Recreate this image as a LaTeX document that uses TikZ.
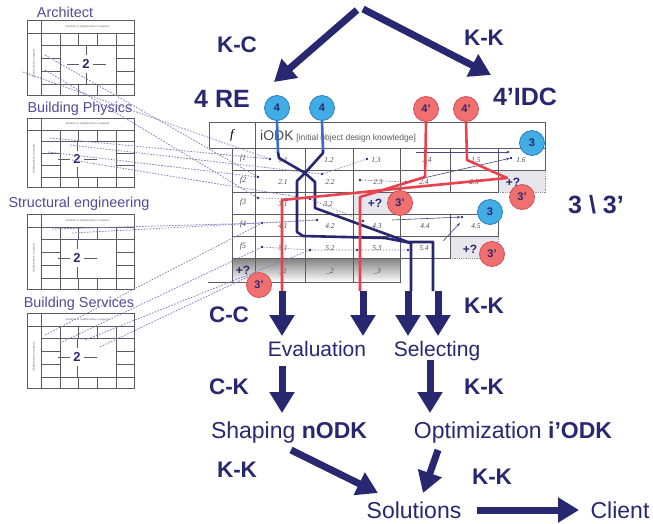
\documentclass[tikz,border=0pt]{standalone}
\usepackage{fontspec}
\setmainfont{Liberation Sans}
\newfontfamily\cellfont{Liberation Serif}
\usetikzlibrary{arrows.meta}

\definecolor{navy}{RGB}{40,40,112}
\definecolor{titlepurple}{RGB}{84,74,150}
\definecolor{gridgrey}{RGB}{92,92,100}
\definecolor{linkdash}{RGB}{140,122,192}
\definecolor{cblue}{RGB}{66,172,228}
\definecolor{cbluedark}{RGB}{40,125,195}
\definecolor{bluepath}{RGB}{55,110,205}
\definecolor{redpath}{RGB}{232,66,78}
\definecolor{cred}{RGB}{240,112,112}
\definecolor{creddark}{RGB}{214,76,86}
\definecolor{shade}{RGB}{230,230,236}
\definecolor{numgrey}{RGB}{75,75,85}

\tikzset{
  bigarrow/.style={draw=navy, line width=7pt, -{Triangle[length=21pt,width=24pt]}},
  steplabel/.style={text=navy, font=\fontsize{21}{21}\selectfont, inner sep=0pt, anchor=base},
  outlabel/.style={text=navy, font=\fontsize{23}{23}\selectfont, inner sep=0pt, anchor=base},
  kclabel/.style={text=navy, font=\bfseries\fontsize{22.5}{22.5}\selectfont, inner sep=0pt, anchor=base},
  biglabel/.style={text=navy, font=\bfseries\fontsize{25}{25}\selectfont, inner sep=0pt, anchor=base},
  paneltitle/.style={text=titlepurple, font=\fontsize{14.4}{14.4}\selectfont, inner sep=0pt, anchor=base},
  bluecirc/.style={circle, minimum size=25pt, inner sep=0pt, fill=cblue, draw=cbluedark, line width=0.8pt, text=navy, font=\bfseries\fontsize{11}{11}\selectfont},
  redcirc/.style={circle, minimum size=25pt, inner sep=0pt, fill=cred, draw=creddark, line width=0.8pt, text=navy, font=\bfseries\fontsize{11}{11}\selectfont},
  gridline/.style={draw=gridgrey, line width=0.85pt},
  cellnum/.style={text=numgrey, font=\cellfont\itshape\fontsize{7.5}{7.5}\selectfont, inner sep=0pt},
  link/.style={draw=linkdash, line width=0.8pt, dash pattern=on 1.6pt off 1.4pt},
  innerlink/.style={draw=navy!60, line width=0.6pt, dash pattern=on 1.6pt off 1.4pt},
  thinlink/.style={draw=navy!85, line width=0.6pt, -{Stealth[length=3.5pt,width=3pt]}},
  celldot/.style={circle, fill=navy, inner sep=0pt, minimum size=2.6pt},
  navypath/.style={draw=navy, line width=2.6pt, line join=round},
  bluepathstyle/.style={draw=bluepath, line width=2.6pt},
  redpathstyle/.style={draw=redpath, line width=2.6pt, line join=round},
  shadedcell/.style={fill=shade, draw=gridgrey!70, dash pattern=on 1.2pt off 1pt, line width=0.6pt},
  plusq/.style={text=navy, font=\bfseries\fontsize{12}{12}\selectfont, inner sep=0pt},
  tinytext/.style={font=\fontsize{2.6}{2.6}\selectfont, text=gridgrey, inner sep=0pt},
}

% One assessment matrix of a discipline: #1,#2 top-left corner, #3 x of the figure,
% #4 node-name prefix, #5 vertical scale
\newcommand{\assessgrid}[5]{%
  \begin{scope}[shift={(#1,#2)}, yscale=#5]
    \draw[gridline] (0,0) rectangle (107,75);
    \draw[gridline] (0,13) -- (107,13) (14,0) -- (14,75);
    \draw[gridline] (14,25) -- (107,25) (14,64) -- (107,64);
    \draw[gridline] (14,38) -- (33,38) (89,38) -- (107,38) (14,51) -- (33,51) (89,51) -- (107,51);
    \draw[gridline] (33,13) -- (33,75) (89,13) -- (89,75);
    \draw[gridline] (51,13) -- (51,25) (70,13) -- (70,25) (51,64) -- (51,75) (70,64) -- (70,75);
    \draw[gridline] (#3-19,44) -- (#3-7,44) (#3+7,44) -- (#3+20,44)
                    (#3,25) -- (#3,35) (#3,53) -- (#3,64);
    \node[text=navy, font=\bfseries\fontsize{13}{13}\selectfont, inner sep=0pt] (#4two) at (#3,44) {2};
    \node[tinytext] (#4head) at (60.5,6.5) {Solutions to (Sub)functions or aspects};
    \node[tinytext, rotate=90] (#4side) at (7,44) {(Sub)functions or aspects};
  \end{scope}}

\begin{document}
\begin{tikzpicture}[x=1pt,y=-1pt]
\useasboundingbox (0,0) rectangle (653,523);
\fill[white] (0,0) rectangle (653,523);

% ---------- discipline matrices on the left ----------
\node[paneltitle] (tarch) at (65,17) {Architect};
\assessgrid{27}{20}{59}{arch}{1}
\node[paneltitle] (tphys) at (80,112) {Building Physics};
\assessgrid{27}{118}{50}{phys}{0.93}
\node[paneltitle] (tstruct) at (79,207) {Structural engineering};
\assessgrid{27}{214}{50}{struct}{1}
\node[paneltitle] (tserv) at (79,307) {Building Services};
\assessgrid{27}{313}{50}{serv}{1}

% ---------- central iODK matrix ----------
\draw[gridline] (209,122) rectangle (545,148);
\draw[gridline] (255,122) -- (255,148);
\node[text=black, font=\cellfont\itshape\fontsize{13}{13}\selectfont] (fhead) at (232,135) {f};
\node[anchor=base west, inner sep=0pt, text=numgrey, font=\fontsize{14}{14}\selectfont] (iodk) at (260,140) {iODK};
\node[anchor=base west, inner sep=0pt, text=gridgrey, font=\fontsize{8.5}{8.5}\selectfont] (iodkdesc) at (iodk.base east) {\ [initial object design knowledge]};

% shaded "+?" cells
\fill[shade] (232,258) rectangle (400,282);
\draw[shadedcell] (498,170) rectangle (545,192);
\draw[shadedcell] (353,192) rectangle (400,214);
\draw[shadedcell] (450,236) rectangle (498,258);

% grid of the cells
\foreach \a/\b in {232/255,255/305,305/353,353/400,400/450,450/498,498/545}
  \draw[gridline] (\a,148) rectangle (\b,170);
\foreach \a/\b in {232/255,255/305,305/353,353/400,400/450,450/498}
  \draw[gridline] (\a,170) rectangle (\b,192);
\foreach \a/\b in {232/255,255/305,305/353}
  \draw[gridline] (\a,192) rectangle (\b,214);
\foreach \a/\b in {232/255,255/305,305/353,353/400,400/450,450/498}
  \draw[gridline] (\a,214) rectangle (\b,236);
\foreach \a/\b in {232/255,255/305,305/353,353/400,400/450}
  \draw[gridline] (\a,236) rectangle (\b,258);
\foreach \a/\b in {232/255,255/305,305/353,353/400}
  \draw[gridline] (\a,258) rectangle (\b,282);
\draw[gridline] (208,282) -- (400,282);

% function labels
\foreach \k/\y in {1/159,2/181,3/203,4/225,5/247}
  \node[cellnum, font=\cellfont\itshape\fontsize{8}{8}\selectfont] (f\k) at (243,\y) {f\k};

% cell numbers
\foreach \n/\x in {1.1/283,1.2/329,1.3/376,1.4/427,1.5/476,1.6/521}
  \node[cellnum] at (\x,160) {\n};
\foreach \n/\x in {2.1/283,2.2/330,2.3/378,2.4/424,2.5/474}
  \node[cellnum] at (\x,182) {\n};
\foreach \n/\x in {3.1/283,3.2/328}
  \node[cellnum] at (\x,204) {\n};
\foreach \n/\x in {4.1/283,4.2/330,4.3/377,4.4/425,4.5/476}
  \node[cellnum] at (\x,226) {\n};
\foreach \n/\x in {5.1/283,5.2/330,5.3/377,5.4/424}
  \node[cellnum] at (\x,248) {\n};
\foreach \n/\x in {1/283,2/330,3/377}
  \node[cellnum] at (\x,271) {\_\n};

% "+?" markers
\node[plusq] (pq2) at (513,182) {+?};
\node[plusq] (pq3) at (375,203) {+?};
\node[plusq] (pq5) at (470,249) {+?};
\node[plusq] (pq6) at (243,270) {+?};

% dots of the chosen solutions
\foreach \nm/\x/\y in {d11/270/159,d13/367/159,d21/258/177,d22/322/174,d23/360/180,d24/406/182,
  d31/258/198,d32/310/199,d41/262/223,d42/317/220,d43/363/221,d51/262/247,d52/310/250,
  d53/357/250,d54/408/250,d16/511/158,d45/462/217}
  \node[celldot] (\nm) at (\x,\y) {};

% dashed links from the discipline matrices
\draw[link] (45,55) -- (d21);
\draw[link] (45,70) -- (d31);
\draw[link] (23,72) -- (d11);
\draw[link] (50,138) -- (d11);
\draw[link] (70,145) -- (d22);
\draw[link] (48,152) -- (d21);
\draw[link] (72,160) -- (d32);
\draw[link] (52,229) -- (d41);
\draw[link] (72,233) -- (d42);
\draw[link] (45,335) -- (d41);
\draw[link] (60,343) -- (d51);
\draw[link] (85,340) -- (d52);
\draw[link] (100,347) -- (258,272);
% dashed links inside the matrix
\draw[innerlink] (d22) -- (d13);
\draw[innerlink] (d23) -- (d24);
\draw[innerlink] (d31) -- (d32) -- (d43);
\draw[innerlink] (d41) -- (d42);
\draw[innerlink] (d51) -- (d52) -- (d53) -- (d54);
% thin arrows towards the new solutions
\coordinate (ta1) at (416,152);
\coordinate (ta2) at (510,152);
\draw[thinlink] (ta1) -- (ta2);
\draw[thinlink] (d24) -- (d16);
\coordinate (ta3) at (392,220);
\draw[thinlink] (ta3) -- (d45);
\coordinate (ta4) at (443,241);
\coordinate (ta5) at (460,223);
\draw[thinlink] (ta4) -- (ta5);

% ---------- RE and IDC circles ----------
\node[bluecirc] (b4a) at (277,108) {4};
\node[bluecirc] (b4b) at (322,108) {4};
\node[redcirc] (r4a) at (426,109) {4’};
\node[redcirc] (r4b) at (466,109) {4’};

% routes through the matrix
\coordinate (ba) at (278,152);
\coordinate (bb) at (323,150);
\coordinate (enda) at (433,291);
\coordinate (endb) at (411,291);
\coordinate (endr1) at (360,291);
\coordinate (endr2) at (282,291);
\draw[bluepathstyle] (b4a.south) -- (ba);
\draw[bluepathstyle] (b4b.south) -- (bb);
\draw[navypath] (ba) -- (279,158) -- (305,173) -- (315,182) -- (315,208) -- (408,242) -- (433,242) -- (enda);
\draw[navypath] (bb) -- (323,153) -- (305,173) -- (297,181) -- (297,232) -- (303,236) -- (385,238) -- (411,243) -- (endb);
\draw[redpathstyle] (r4a.south) -- (425,177) -- (360,197) -- (endr1);
\draw[redpathstyle] (r4b.south) -- (467,160) -- (507,178) -- (282,200) -- (endr2);

% new-solution circles
\node[bluecirc] (b3a) at (532,143) {3};
\node[bluecirc] (b3b) at (490,212) {3};
\node[redcirc] (r3a) at (522,197) {3’};
\node[redcirc] (r3b) at (492,254) {3’};
\node[redcirc] (r3c) at (400,203) {3’};
\node[redcirc] (r3d) at (259,285) {3’};

% ---------- labels ----------
\node[kclabel] (kc) at (237,52) {K-C};
\node[kclabel] (kktop) at (484,45) {K-K};
\node[biglabel] (re) at (222,107) {4 RE};
\node[biglabel] (idc) at (525,105) {4’IDC};
\node[biglabel] (three) at (596,213) {3 \textbackslash\ 3’};
\node[kclabel] (cc) at (229,322) {C-C};
\node[kclabel] (kk1) at (484,313) {K-K};
\node[kclabel] (ck) at (229,394) {C-K};
\node[kclabel] (kk2) at (484,394) {K-K};
\node[kclabel] (kk3) at (237,477) {K-K};
\node[kclabel] (kk4) at (492,484) {K-K};

\node[steplabel] (eval) at (317,356) {Evaluation};
\node[steplabel] (select) at (437,356) {Selecting};
\node[outlabel] (shape) at (289,438) {Shaping \textbf{nODK}};
\node[outlabel] (optim) at (513,438) {Optimization \textbf{i’ODK}};
\node[outlabel] (sol) at (414,518) {Solutions};
\node[outlabel] (client) at (620,518) {Client};

% ---------- big arrows ----------
\coordinate (topl) at (357,10);
\coordinate (topr) at (363,9);
\coordinate (rehead) at (274,82);
\coordinate (idchead) at (491,75);
\draw[bigarrow] (topl) -- (rehead);
\draw[bigarrow] (topr) -- (idchead);

\coordinate (a1s) at (282,291); \coordinate (a1e) at (282,336);
\coordinate (a2s) at (363,291); \coordinate (a2e) at (363,336);
\coordinate (a3s) at (408,291); \coordinate (a3e) at (408,336);
\coordinate (a4s) at (438,291); \coordinate (a4e) at (438,336);
\draw[bigarrow] (a1s) -- (a1e);
\draw[bigarrow] (a2s) -- (a2e);
\draw[bigarrow] (a3s) -- (a3e);
\draw[bigarrow] (a4s) -- (a4e);

\coordinate (e1s) at (282,366); \coordinate (e1e) at (282,413);
\coordinate (s1s) at (430,360); \coordinate (s1e) at (430,413);
\draw[bigarrow] (e1s) -- (e1e);
\draw[bigarrow] (s1s) -- (s1e);

\coordinate (shs) at (291,450); \coordinate (she) at (378,493);
\coordinate (ops) at (438,450); \coordinate (ope) at (423,493);
\coordinate (sls) at (477,510); \coordinate (sle) at (579,510);
\draw[bigarrow] (shs) -- (she);
\draw[bigarrow] (ops) -- (ope);
\draw[bigarrow] (sls) -- (sle);
\end{tikzpicture}
\end{document}
